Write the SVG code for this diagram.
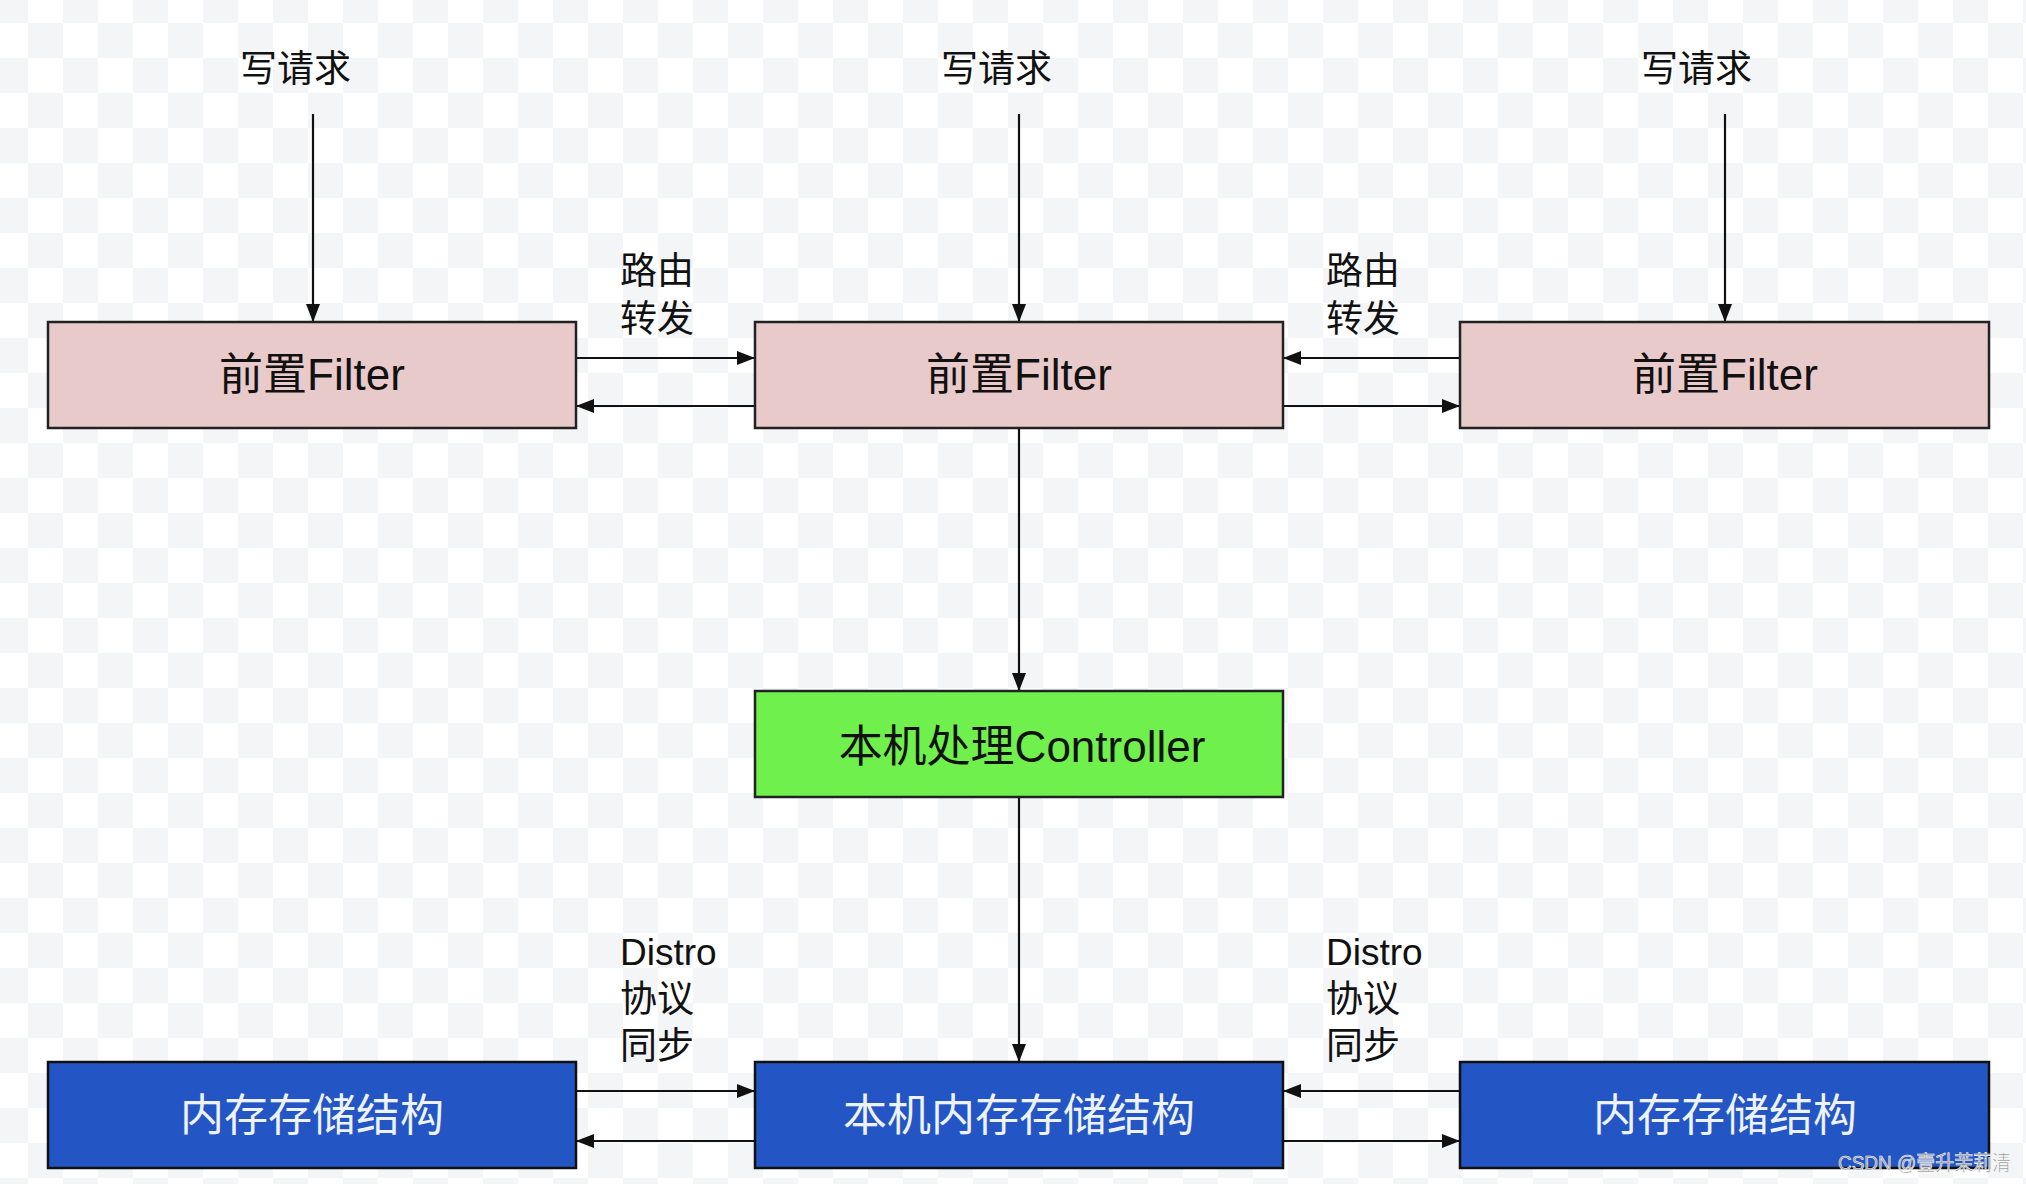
<svg xmlns="http://www.w3.org/2000/svg" width="2026" height="1184" viewBox="0 0 2026 1184">
<style>
.lbl{font-family:"Liberation Sans","Noto Sans CJK SC",sans-serif;font-size:37px;fill:#111}
.bt{font-family:"Liberation Sans","Noto Sans CJK SC",sans-serif;font-size:44px;text-anchor:middle}
.dark{fill:#111}
.light{fill:#eef2fa}
.filter{fill:#e9caca;stroke:#222;stroke-width:2.5}
.ctrl{fill:#70f04c;stroke:#222;stroke-width:2.5}
.mem{fill:#2356c4;stroke:#111;stroke-width:2.5}
.edge{stroke:#111;stroke-width:2.2;fill:none;marker-end:url(#ah)}
</style>
<defs>
<pattern id="chk" x="28" y="23" width="70" height="70" patternUnits="userSpaceOnUse">
<rect x="0" y="0" width="35" height="35" fill="#f4f5f7"/>
<rect x="35" y="35" width="35" height="35" fill="#f4f5f7"/>
</pattern>
<marker id="ah" markerUnits="userSpaceOnUse" markerWidth="20" markerHeight="16" refX="18" refY="7" orient="auto">
<path d="M0,0 L18,7 L0,14 Z" fill="#111"/>
</marker>
</defs>
<rect width="2026" height="1184" fill="#ffffff"/>
<rect width="2026" height="1184" fill="url(#chk)"/>

<g id="labels">
<text class="lbl" x="240" y="82">写请求</text>
<text class="lbl" x="941" y="82">写请求</text>
<text class="lbl" x="1641" y="82">写请求</text>
<text class="lbl" x="620" y="284">路由</text>
<text class="lbl" x="620" y="332">转发</text>
<text class="lbl" x="1326" y="284">路由</text>
<text class="lbl" x="1326" y="332">转发</text>
<text class="lbl" x="620" y="965">Distro</text>
<text class="lbl" x="620" y="1012">协议</text>
<text class="lbl" x="620" y="1059">同步</text>
<text class="lbl" x="1326" y="965">Distro</text>
<text class="lbl" x="1326" y="1012">协议</text>
<text class="lbl" x="1326" y="1059">同步</text>
</g>

<g id="connectors">
<line class="edge" x1="313" y1="114" x2="313" y2="322"/>
<line class="edge" x1="1019" y1="114" x2="1019" y2="322"/>
<line class="edge" x1="1725" y1="114" x2="1725" y2="322"/>
<line class="edge" x1="576" y1="358" x2="755" y2="358"/>
<line class="edge" x1="755" y1="406" x2="576" y2="406"/>
<line class="edge" x1="1460" y1="358" x2="1283" y2="358"/>
<line class="edge" x1="1283" y1="406" x2="1460" y2="406"/>
<line class="edge" x1="1019" y1="428" x2="1019" y2="691"/>
<line class="edge" x1="1019" y1="797" x2="1019" y2="1062"/>
<line class="edge" x1="576" y1="1091" x2="755" y2="1091"/>
<line class="edge" x1="755" y1="1141" x2="576" y2="1141"/>
<line class="edge" x1="1460" y1="1091" x2="1283" y2="1091"/>
<line class="edge" x1="1283" y1="1141" x2="1460" y2="1141"/>
</g>

<g id="filter1"><rect class="filter" x="48" y="322" width="528" height="106"/><text class="bt dark" x="312" y="390">前置Filter</text></g>
<g id="filter2"><rect class="filter" x="755" y="322" width="528" height="106"/><text class="bt dark" x="1019" y="390">前置Filter</text></g>
<g id="filter3"><rect class="filter" x="1460" y="322" width="529" height="106"/><text class="bt dark" x="1725" y="390">前置Filter</text></g>
<g id="controller"><rect class="ctrl" x="755" y="691" width="528" height="106"/><text class="bt dark" x="1022" y="762">本机处理Controller</text></g>
<g id="mem1"><rect class="mem" x="48" y="1062" width="528" height="106"/><text class="bt light" x="312" y="1131">内存存储结构</text></g>
<g id="mem2"><rect class="mem" x="755" y="1062" width="528" height="106"/><text class="bt light" x="1019" y="1131">本机内存存储结构</text></g>
<g id="mem3"><rect class="mem" x="1460" y="1062" width="529" height="106"/><text class="bt light" x="1725" y="1131">内存存储结构</text></g>

<text x="1838" y="1170" font-family="Liberation Sans,'Noto Sans CJK SC',sans-serif" font-size="21" fill="#8c8c8c" stroke="#ffffff" stroke-width="0.6" textLength="173" lengthAdjust="spacingAndGlyphs">CSDN @壹升茉莉清</text>
</svg>
